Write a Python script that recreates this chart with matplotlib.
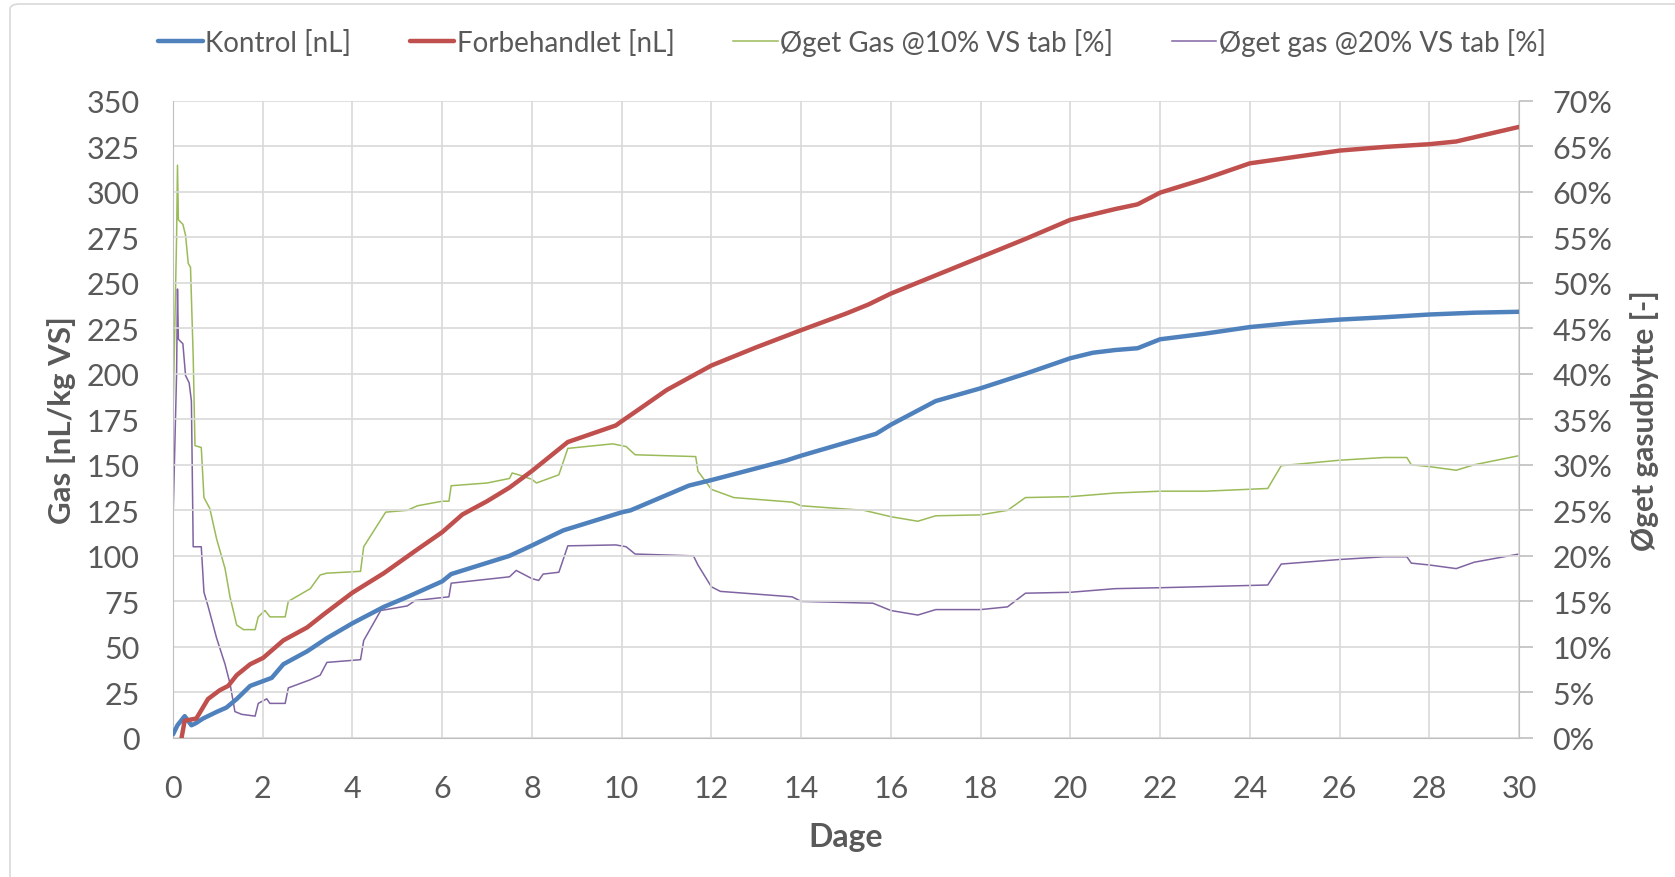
import matplotlib
matplotlib.use("Agg")
import matplotlib.pyplot as plt
from matplotlib.patches import FancyBboxPatch
from matplotlib.ticker import FuncFormatter, MultipleLocator

# ---- data ----
kontrol_x = [0, 0.1, 0.26, 0.41, 0.5, 0.67, 0.97, 1.19, 1.42, 1.72, 2.09, 2.2, 2.46, 2.99, 3.43,
             4.0, 4.7, 5.22, 6.0, 6.2, 7.5, 8.0, 8.7, 10.0, 10.2, 11.5, 12.0, 13.66, 14.0, 15.67,
             16.0, 17.0, 18.0, 19.0, 20.0, 20.5, 21.0, 21.5, 22.0, 23.0, 24.0, 25.0, 26.0, 27.0,
             28.0, 29.0, 30.0]
kontrol_y = [2, 7, 12, 7, 8, 10.7, 14.3, 16.7, 21.4, 28.6, 32, 33, 40.5, 47.6, 54.8,
             63, 72, 77.4, 86, 90, 100, 105.7, 114, 123.9, 125, 138.6, 141.6, 152.3, 155, 167,
             172, 185, 192, 200, 208.5, 211.5, 213, 214, 218.9, 222, 225.6, 228, 229.7, 231,
             232.5, 233.5, 234]

forb_x = [0.19, 0.26, 0.52, 0.78, 1.04, 1.23, 1.42, 1.72, 2.01, 2.46, 2.99, 3.36, 4.0, 4.7,
          5.45, 6.0, 6.45, 7.0, 7.5, 8.0, 8.8, 9.87, 10.0, 10.4, 11.0, 12.0, 13.0, 14.0, 15.0,
          15.5, 16.0, 17.0, 18.0, 19.0, 20.0, 21.0, 21.5, 22.0, 23.0, 24.0, 25.0, 26.0, 27.0,
          28.0, 28.6, 30.0]
forb_y = [0, 9.5, 10.7, 21.4, 26.2, 28.6, 34.5, 40.5, 44, 53.6, 60.7, 67.9, 79.8, 90.5,
          103.6, 113, 122.7, 130, 137.5, 146.6, 162.5, 171.6, 173.9, 180.7, 191, 204.5, 214.5,
          223.9, 233, 238, 244, 254, 264, 274, 284.5, 290.4, 293, 299.4, 307, 315.5, 319,
          322.5, 324.5, 326, 327.5, 335.5]

gas10_x = [0, 0.08, 0.1, 0.12, 0.22, 0.28, 0.34, 0.39, 0.45, 0.49, 0.63, 0.69, 0.82, 0.97,
           1.16, 1.27, 1.42, 1.57, 1.83, 1.9, 2.05, 2.16, 2.5, 2.57, 3.06, 3.28, 3.43, 4.18,
           4.25, 4.74, 5.22, 5.45, 6.0, 6.15, 6.2, 7.0, 7.5, 7.56, 7.7, 8.0, 8.1, 8.6, 8.8,
           9.8, 10.1, 10.3, 11.65, 11.7, 12.0, 12.5, 13.8, 14.0, 15.4, 16.0, 16.6, 17.0, 18.0,
           18.6, 19.0, 20.0, 21.0, 22.0, 23.0, 24.4, 24.7, 26.0, 27.0, 27.5, 27.6, 28.0, 28.6,
           29.0, 30.0]
gas10_y = [35.2, 55, 62.9, 56.9, 56.4, 55.2, 52.1, 51.7, 41.9, 32.1, 31.9, 26.4, 25.2, 21.9,
           18.6, 15.5, 12.4, 11.9, 11.9, 13.3, 14.0, 13.3, 13.3, 15.0, 16.4, 17.9, 18.1, 18.3,
           21.0, 24.8, 25.0, 25.5, 26.0, 26.0, 27.7, 28.0, 28.5, 29.1, 28.9, 28.4, 28.0, 28.9,
           31.8, 32.3, 32.0, 31.1, 30.9, 29.3, 27.3, 26.4, 25.9, 25.5, 25.0, 24.3, 23.8, 24.4,
           24.5, 25.0, 26.4, 26.5, 26.9, 27.1, 27.1, 27.4, 29.9, 30.5, 30.8, 30.8, 30.0, 29.8,
           29.4, 30.0, 31.0]

gas20_x = [0, 0.08, 0.1, 0.12, 0.22, 0.28, 0.36, 0.41, 0.45, 0.63, 0.69, 0.78, 0.97, 1.16,
           1.27, 1.38, 1.53, 1.83, 1.9, 2.09, 2.16, 2.5, 2.57, 3.06, 3.28, 3.43, 4.18, 4.25,
           4.63, 5.22, 5.4, 6.15, 6.2, 7.5, 7.65, 8.0, 8.15, 8.25, 8.6, 8.8, 9.87, 10.1, 10.3,
           11.6, 11.7, 12.0, 12.2, 13.8, 14.0, 15.6, 16.0, 16.6, 17.0, 18.0, 18.6, 19.0, 20.0,
           21.0, 22.0, 24.4, 24.7, 26.0, 27.0, 27.5, 27.6, 28.0, 28.6, 29.0, 30.0]
gas20_y = [23.8, 40, 49.3, 43.8, 43.3, 39.8, 39.0, 37, 21.0, 21.0, 16.0, 14.5, 11.0, 8.1,
           6.0, 2.9, 2.6, 2.4, 3.8, 4.3, 3.8, 3.8, 5.5, 6.4, 6.9, 8.3, 8.6, 10.7,
           14.0, 14.5, 15.1, 15.5, 17.0, 17.7, 18.4, 17.5, 17.3, 18.0, 18.2, 21.1, 21.2, 21.0,
           20.2, 20.0, 19.0, 16.6, 16.1, 15.5, 15.0, 14.8, 14.0, 13.5, 14.1, 14.1, 14.4, 15.9,
           16.0, 16.4, 16.5, 16.8, 19.1, 19.6, 19.9, 19.9, 19.2, 19.0, 18.6, 19.3, 20.2]

labels = ["Kontrol [nL]", "Forbehandlet [nL]", "Øget Gas @10% VS tab [%]", "Øget gas @20% VS tab [%]"]
x_ticks = list(range(0, 31, 2))

# ---- style ----
plt.rcParams['font.family'] = ['Lato', 'DejaVu Sans']
TXT = '#595959'
GRID = '#d9d9d9'
AX = '#bfbfbf'

fig = plt.figure(figsize=(16.75, 8.78), dpi=100)
fig.patches.append(FancyBboxPatch((10/1675, -0.05), 1.2, 1.05 - 5/878,
                                  boxstyle="round,pad=0,rounding_size=0.006",
                                  transform=fig.transFigure, fill=False,
                                  edgecolor='#d9d9d9', linewidth=1.2, zorder=0))

ax = fig.add_axes([173/1675, 1 - 739/878, 1346/1675, 637.5/878])
ax2 = ax.twinx()

l1, = ax.plot(kontrol_x, kontrol_y, color='#4F81BD', lw=3.2, solid_capstyle='round', zorder=4)
l2, = ax.plot(forb_x, forb_y, color='#C0504D', lw=3.2, solid_capstyle='round', zorder=4)
l3, = ax2.plot(gas10_x, gas10_y, color='#9BBB59', lw=1.1)
l4, = ax2.plot(gas20_x, gas20_y, color='#8064A2', lw=1.1)

ax.set_zorder(2)
ax.patch.set_visible(False)
ax2.set_zorder(1)

ax.set_xlim(0, 30)
ax.set_ylim(0, 350)
ax2.set_ylim(0, 70)
ax.set_xticks(x_ticks)
ax.yaxis.set_major_locator(MultipleLocator(25))
ax2.yaxis.set_major_locator(MultipleLocator(5))
ax2.yaxis.set_major_formatter(FuncFormatter(lambda v, p: f"{v:.0f}%"))

ax.grid(True, color=GRID, lw=1.2)
ax.set_axisbelow(True)

for a in (ax, ax2):
    for s in a.spines.values():
        s.set_visible(False)
ax.spines['left'].set_visible(True)
ax.spines['left'].set_color(AX)
ax.spines['bottom'].set_visible(True)
ax.spines['bottom'].set_color(AX)
ax2.spines['right'].set_visible(True)
ax2.spines['right'].set_color(AX)

ax.tick_params(axis='y', length=0, pad=24, labelsize=22, labelcolor=TXT)
ax.tick_params(axis='x', length=0, pad=26, labelsize=22, labelcolor=TXT)
ax2.tick_params(axis='y', length=10, width=1.2, color=AX, pad=14, labelsize=22, labelcolor=TXT)

ax.set_ylabel("Gas [nL/kg VS]", fontsize=22.5, fontweight='bold', color=TXT, va='center')
ax.yaxis.set_label_coords(-0.0825, 0.5)
ax.set_xlabel("Dage", fontsize=23, fontweight='bold', color=TXT, va='center')
ax.xaxis.set_label_coords(0.5, -0.155)
ax2.set_ylabel("Øget gasudbytte [-]", fontsize=21.5, fontweight='bold', color=TXT,
               rotation=90, va='center')
ax2.yaxis.set_label_coords(1.093, 0.5)

fig.legend([l1, l2, l3, l4], labels, loc='center', bbox_to_anchor=(852/1675, 1 - 43/878),
           ncol=4, frameon=False, fontsize=20, handlelength=1.6, handletextpad=0.1,
           columnspacing=2.1, labelcolor=TXT)

fig.savefig("out.png", dpi=100)
